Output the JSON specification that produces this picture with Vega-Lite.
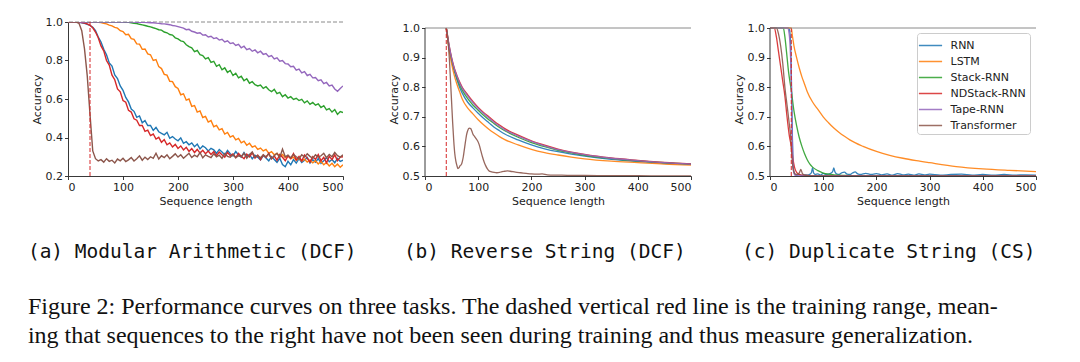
{
  "$schema": "https://vega.github.io/schema/vega-lite/v6.json",
  "background": "white",
  "padding": {"left": 27, "top": 16, "right": 0, "bottom": 0},
  "config": {
    "view": {"stroke": null},
    "axis": {"labelFont": "DejaVu Sans", "labelFontSize": 11, "labelColor": "#222", "titleFont": "DejaVu Sans", "titleFontSize": 11, "titleFontWeight": "normal", "titleColor": "#222", "domainColor": "#222", "domainWidth": 0.9, "tickColor": "#222", "tickWidth": 0.9, "tickSize": 3.5, "labelPadding": 2, "titlePadding": 3, "grid": false}
  },
  "datasets": {
    "a": [
      {"m": "RNN", "x": [0,5,10,15,20,25,30,35,40,45,50,55,60,65,70,75,80,85,90,95,100,105,110,115,120,125,130,135,140,145,150,155,160,165,170,175,180,185,190,195,200,205,210,215,220,225,230,235,240,245,250,255,260,265,270,275,280,285,290,295,300,305,310,315,320,325,330,335,340,345,350,355,360,365,370,375,380,385,390,395,400,405,410,415,420,425,430,435,440,445,450,455,460,465,470,475,480,485,490,495,500],
       "y": [1,1,1,1,0.999,0.996,0.993,0.988,0.982,0.972,0.955,0.922,0.896,0.858,0.83,0.787,0.771,0.725,0.706,0.668,0.645,0.608,0.585,0.548,0.536,0.505,0.512,0.476,0.488,0.462,0.463,0.437,0.452,0.43,0.421,0.414,0.427,0.396,0.405,0.392,0.383,0.398,0.37,0.378,0.362,0.372,0.352,0.366,0.341,0.356,0.347,0.33,0.344,0.336,0.318,0.338,0.325,0.31,0.333,0.316,0.304,0.327,0.309,0.298,0.322,0.301,0.312,0.289,0.308,0.297,0.284,0.306,0.293,0.279,0.301,0.286,0.271,0.292,0.26,0.248,0.276,0.258,0.285,0.267,0.29,0.27,0.282,0.296,0.268,0.284,0.272,0.291,0.266,0.279,0.295,0.274,0.286,0.269,0.291,0.276,0.282]},
      {"m": "LSTM", "x": [0,5,10,15,20,25,30,35,40,45,50,55,60,65,70,75,80,85,90,95,100,105,110,115,120,125,130,135,140,145,150,155,160,165,170,175,180,185,190,195,200,205,210,215,220,225,230,235,240,245,250,255,260,265,270,275,280,285,290,295,300,305,310,315,320,325,330,335,340,345,350,355,360,365,370,375,380,385,390,395,400,405,410,415,420,425,430,435,440,445,450,455,460,465,470,475,480,485,490,495,500],
       "y": [1,1,1,1,1,1,1,1,1,1,1,0.999,0.997,0.993,0.99,0.984,0.98,0.972,0.968,0.955,0.95,0.934,0.936,0.914,0.91,0.886,0.885,0.858,0.86,0.834,0.83,0.8,0.805,0.768,0.758,0.728,0.724,0.692,0.69,0.664,0.655,0.622,0.627,0.594,0.6,0.562,0.566,0.532,0.538,0.504,0.51,0.48,0.488,0.456,0.463,0.44,0.446,0.418,0.426,0.402,0.41,0.388,0.395,0.372,0.381,0.36,0.37,0.35,0.357,0.338,0.345,0.33,0.338,0.318,0.327,0.31,0.318,0.302,0.312,0.296,0.304,0.29,0.298,0.282,0.293,0.278,0.287,0.272,0.283,0.268,0.279,0.262,0.276,0.258,0.27,0.252,0.266,0.248,0.262,0.245,0.258]},
      {"m": "Stack-RNN", "x": [0,5,10,15,20,25,30,35,40,45,50,55,60,65,70,75,80,85,90,95,100,105,110,115,120,125,130,135,140,145,150,155,160,165,170,175,180,185,190,195,200,205,210,215,220,225,230,235,240,245,250,255,260,265,270,275,280,285,290,295,300,305,310,315,320,325,330,335,340,345,350,355,360,365,370,375,380,385,390,395,400,405,410,415,420,425,430,435,440,445,450,455,460,465,470,475,480,485,490,495,500],
       "y": [1,1,1,1,1,1,1,1,1,1,1,1,1,1,1,1,1,1,1,1,1,0.999,0.998,0.996,0.993,0.992,0.988,0.985,0.982,0.978,0.975,0.97,0.966,0.96,0.958,0.948,0.944,0.935,0.932,0.918,0.912,0.902,0.898,0.882,0.872,0.866,0.846,0.852,0.83,0.826,0.808,0.815,0.79,0.796,0.77,0.778,0.752,0.762,0.738,0.748,0.722,0.734,0.71,0.718,0.695,0.705,0.682,0.69,0.674,0.668,0.672,0.655,0.664,0.648,0.638,0.65,0.628,0.634,0.612,0.622,0.605,0.612,0.598,0.604,0.592,0.598,0.58,0.59,0.572,0.582,0.568,0.575,0.556,0.565,0.543,0.55,0.532,0.545,0.52,0.535,0.53]},
      {"m": "NDStack-RNN", "x": [0,5,10,15,20,25,30,35,40,45,50,55,60,65,70,75,80,85,90,95,100,105,110,115,120,125,130,135,140,145,150,155,160,165,170,175,180,185,190,195,200,205,210,215,220,225,230,235,240,245,250,255,260,265,270,275,280,285,290,295,300,305,310,315,320,325,330,335,340,345,350,355,360,365,370,375,380,385,390,395,400,405,410,415,420,425,430,435,440,445,450,455,460,465,470,475,480,485,490,495,500],
       "y": [1,1,1,1,1,0.997,0.994,0.99,0.983,0.97,0.948,0.918,0.876,0.85,0.8,0.776,0.724,0.7,0.652,0.637,0.592,0.583,0.541,0.532,0.497,0.49,0.462,0.463,0.432,0.438,0.41,0.418,0.392,0.401,0.375,0.389,0.362,0.372,0.351,0.364,0.343,0.356,0.335,0.349,0.328,0.342,0.322,0.338,0.319,0.334,0.316,0.33,0.312,0.327,0.305,0.324,0.31,0.298,0.322,0.306,0.315,0.296,0.318,0.302,0.29,0.314,0.299,0.32,0.293,0.308,0.285,0.31,0.296,0.318,0.289,0.304,0.282,0.312,0.297,0.279,0.305,0.29,0.316,0.284,0.301,0.278,0.309,0.293,0.272,0.3,0.286,0.311,0.279,0.297,0.268,0.302,0.285,0.31,0.28,0.298,0.3]},
      {"m": "Tape-RNN", "x": [0,5,10,15,20,25,30,35,40,45,50,55,60,65,70,75,80,85,90,95,100,105,110,115,120,125,130,135,140,145,150,155,160,165,170,175,180,185,190,195,200,205,210,215,220,225,230,235,240,245,250,255,260,265,270,275,280,285,290,295,300,305,310,315,320,325,330,335,340,345,350,355,360,365,370,375,380,385,390,395,400,405,410,415,420,425,430,435,440,445,450,455,460,465,470,475,480,485,490,495,500],
       "y": [1,1,1,1,1,1,1,1,1,1,1,1,1,1,1,1,1,1,1,1,1,1,1,1,1,0.999,0.999,0.998,0.998,0.997,0.996,0.996,0.994,0.993,0.991,0.99,0.988,0.986,0.982,0.98,0.976,0.972,0.968,0.96,0.962,0.952,0.948,0.942,0.944,0.932,0.934,0.922,0.926,0.914,0.918,0.906,0.91,0.896,0.902,0.888,0.892,0.878,0.884,0.866,0.874,0.856,0.862,0.848,0.855,0.84,0.848,0.832,0.836,0.82,0.826,0.808,0.814,0.796,0.8,0.784,0.782,0.768,0.77,0.75,0.755,0.736,0.742,0.722,0.728,0.71,0.712,0.695,0.7,0.68,0.686,0.668,0.672,0.652,0.64,0.655,0.668]},
      {"m": "Transformer", "x": [0,5,10,15,20,25,30,35,40,45,50,55,60,65,70,75,80,85,90,95,100,105,110,115,120,125,130,135,140,145,150,155,160,165,170,175,180,185,190,195,200,205,210,215,220,225,230,235,240,245,250,255,260,265,270,275,280,285,290,295,300,305,310,315,320,325,330,335,340,345,350,355,360,365,370,375,380,385,390,395,400,405,410,415,420,425,430,435,440,445,450,455,460,465,470,475,480,485,490,495,500],
       "y": [1,1,1,1,0.993,0.955,0.86,0.72,0.52,0.33,0.29,0.278,0.285,0.272,0.29,0.276,0.282,0.268,0.288,0.279,0.292,0.275,0.284,0.296,0.278,0.29,0.305,0.282,0.298,0.286,0.3,0.292,0.318,0.288,0.305,0.296,0.31,0.29,0.302,0.315,0.298,0.31,0.292,0.305,0.318,0.296,0.308,0.3,0.322,0.295,0.31,0.302,0.295,0.315,0.3,0.308,0.292,0.316,0.302,0.298,0.312,0.295,0.305,0.3,0.318,0.292,0.31,0.325,0.298,0.306,0.295,0.31,0.3,0.315,0.29,0.305,0.318,0.296,0.34,0.3,0.308,0.295,0.312,0.3,0.29,0.31,0.298,0.315,0.302,0.292,0.31,0.298,0.305,0.318,0.295,0.312,0.3,0.322,0.306,0.298,0.31]}
    ],
    "b": [
      {"m": "RNN", "x": [40,45,50,55,60,65,70,80,90,100,110,120,130,140,150,175,200,225,250,275,300,350,400,450,500],
       "y": [1,0.935,0.89,0.855,0.825,0.8,0.78,0.75,0.73,0.712,0.695,0.68,0.665,0.653,0.642,0.622,0.605,0.592,0.582,0.574,0.567,0.556,0.549,0.543,0.539]},
      {"m": "LSTM", "x": [40,45,50,55,60,65,70,80,90,100,110,120,130,140,150,175,200,225,250,275,300,350,400,450,500],
       "y": [1,0.93,0.88,0.84,0.81,0.785,0.76,0.73,0.71,0.69,0.673,0.658,0.645,0.633,0.623,0.605,0.59,0.579,0.571,0.564,0.558,0.55,0.545,0.54,0.537]},
      {"m": "Stack-RNN", "x": [40,45,50,55,60,65,70,80,90,100,110,120,130,140,150,175,200,225,250,275,300,350,400,450,500],
       "y": [1,0.94,0.895,0.86,0.832,0.808,0.79,0.762,0.74,0.722,0.705,0.69,0.677,0.664,0.653,0.631,0.613,0.599,0.587,0.578,0.57,0.559,0.551,0.545,0.54]},
      {"m": "NDStack-RNN", "x": [40,45,50,55,60,65,70,80,90,100,110,120,130,140,150,175,200,225,250,275,300,350,400,450,500],
       "y": [1,0.945,0.9,0.865,0.84,0.818,0.8,0.775,0.752,0.732,0.715,0.7,0.685,0.672,0.66,0.638,0.619,0.604,0.591,0.581,0.573,0.561,0.553,0.546,0.541]},
      {"m": "Tape-RNN", "x": [40,45,50,55,60,65,70,80,90,100,110,120,130,140,150,175,200,225,250,275,300,350,400,450,500],
       "y": [1,0.944,0.898,0.863,0.837,0.815,0.797,0.771,0.748,0.728,0.711,0.696,0.681,0.668,0.656,0.635,0.617,0.602,0.589,0.58,0.572,0.56,0.552,0.545,0.54]},
      {"m": "Transformer", "x": [40,42,44,46,48,50,52,54,56,58,60,62,64,66,68,70,72,74,76,78,80,83,86,88,90,93,96,99,102,105,108,111,114,117,120,125,130,135,140,145,150,155,160,170,180,190,200,210,220,230,250,275,300,350,400,450,500],
       "y": [1,0.98,0.94,0.89,0.82,0.75,0.68,0.62,0.575,0.55,0.535,0.525,0.528,0.535,0.538,0.548,0.565,0.59,0.615,0.638,0.652,0.662,0.66,0.652,0.642,0.634,0.626,0.618,0.605,0.585,0.565,0.548,0.535,0.525,0.518,0.514,0.512,0.511,0.512,0.515,0.516,0.517,0.516,0.513,0.511,0.509,0.507,0.506,0.507,0.504,0.503,0.502,0.502,0.501,0.501,0.5,0.5]}
    ],
    "c": [
      {"m": "RNN", "x": [0,35,37,39,40,41,42,43,44,46,50,55,60,65,70,75,78,80,82,85,90,95,100,105,110,115,118,120,122,125,130,135,140,145,150,155,160,165,170,180,190,200,210,220,230,240,250,260,270,280,290,300,320,340,360,380,400,420,440,460,480,500],
       "y": [1,1,0.99,0.94,0.85,0.75,0.64,0.56,0.525,0.508,0.503,0.505,0.502,0.504,0.503,0.506,0.512,0.528,0.51,0.505,0.507,0.503,0.509,0.505,0.506,0.51,0.516,0.527,0.514,0.507,0.505,0.511,0.513,0.506,0.505,0.51,0.514,0.507,0.505,0.509,0.505,0.508,0.504,0.507,0.503,0.508,0.504,0.506,0.503,0.507,0.504,0.506,0.503,0.505,0.506,0.503,0.505,0.503,0.505,0.503,0.504,0.503]},
      {"m": "LSTM", "x": [0,40,42,45,50,55,60,65,70,80,90,100,110,120,130,140,150,175,200,225,250,275,300,350,400,450,500],
       "y": [1,1,0.975,0.94,0.9,0.865,0.835,0.81,0.785,0.75,0.725,0.7,0.68,0.662,0.647,0.634,0.622,0.6,0.583,0.57,0.56,0.552,0.545,0.532,0.524,0.519,0.515]},
      {"m": "Stack-RNN", "x": [0,25,28,31,35,40,45,50,55,60,65,70,75,80,90,100,110,120,140,160,200,300,400,500],
       "y": [1,1,0.97,0.92,0.85,0.79,0.72,0.67,0.63,0.6,0.575,0.555,0.54,0.53,0.518,0.51,0.506,0.504,0.502,0.501,0.5,0.5,0.5,0.5]},
      {"m": "NDStack-RNN", "x": [0,8,12,16,20,24,28,32,36,40,43,46,50,55,60,70,80,100,200,300,400,500],
       "y": [1,1,0.97,0.92,0.87,0.82,0.77,0.7,0.64,0.6,0.56,0.53,0.512,0.505,0.503,0.502,0.5,0.5,0.5,0.5,0.5,0.5]},
      {"m": "Tape-RNN", "x": [0,33,36,38,40,41,42,43,44,46,50,100,200,300,400,500],
       "y": [1,1,0.98,0.93,0.82,0.72,0.62,0.55,0.52,0.505,0.5,0.5,0.5,0.5,0.5,0.5]},
      {"m": "Transformer", "x": [0,12,16,20,24,28,32,36,39,41,43,46,50,55,58,61,65,70,80,100,200,300,400,500],
       "y": [1,1,0.98,0.94,0.88,0.8,0.74,0.68,0.63,0.57,0.53,0.51,0.505,0.51,0.522,0.508,0.503,0.502,0.5,0.5,0.5,0.5,0.5,0.5]}
    ]
  },
  "title": {
    "text": ["Figure 2: Performance curves on three tasks. The dashed vertical red line is the training range, mean-", "ing that sequences to the right have not been seen during training and thus measure generalization."],
    "orient": "bottom", "anchor": "start", "font": "Liberation Serif", "fontSize": 24, "fontWeight": "normal", "color": "#111", "offset": 34, "lineHeight": 29
  },
  "spacing": 31,
  "resolve": {"scale": {"x": "independent", "y": "independent", "color": "independent"}, "legend": {"color": "independent"}},
  "hconcat": [
    {
      "width": 275, "height": 154,
      "title": {"text": "(a) Modular Arithmetic (DCF)", "orient": "bottom", "anchor": "middle", "frame": "bounds", "dx": 5, "font": "DejaVu Sans Mono", "fontSize": 19.5, "fontWeight": "normal", "color": "#111", "offset": 36},
      "layer": [
        {"data": {"values": [{}]}, "mark": {"type": "rule", "color": "#8a8a8a", "strokeDash": [4, 2], "strokeWidth": 1},
         "encoding": {"y": {"datum": 1, "axis": {"values": [0.2, 0.4, 0.6, 0.8, 1], "format": ".1f", "title": "Accuracy"}}}},
        {"data": {"name": "a"}, "transform": [{"flatten": ["x", "y"]}],
         "mark": {"type": "line", "strokeWidth": 1.4, "clip": true},
         "encoding": {
           "x": {"field": "x", "type": "quantitative", "scale": {"domain": [0, 500], "nice": false}, "axis": {"orient": "bottom", "values": [0, 100, 200, 300, 400, 500], "title": "Sequence length"}},
           "y": {"field": "y", "type": "quantitative", "scale": {"domain": [0.2, 1], "nice": false, "zero": false}, "axis": {"values": [0.2, 0.4, 0.6, 0.8, 1], "format": ".1f", "title": "Accuracy"}},
           "color": {"field": "m", "type": "nominal", "scale": {"domain": ["RNN", "LSTM", "Stack-RNN", "NDStack-RNN", "Tape-RNN", "Transformer"], "range": ["#1f77b4", "#ff7f0e", "#2ca02c", "#d62728", "#9467bd", "#8c564b"]}, "legend": null}
         }},
        {"data": {"values": [{}]}, "mark": {"type": "rule", "color": "#d62728", "strokeDash": [4, 2], "strokeWidth": 1},
         "encoding": {
           "x": {"datum": 40, "axis": {"orient": "bottom", "values": [0, 100, 200, 300, 400, 500], "title": "Sequence length"}},
           "y": {"datum": 0.2, "axis": {"values": [0.2, 0.4, 0.6, 0.8, 1], "format": ".1f", "title": "Accuracy"}},
           "y2": {"datum": 1}}}
      ]
    },
    {
      "spacing": 41,
      "resolve": {"scale": {"x": "independent", "y": "independent", "color": "independent"}, "legend": {"color": "independent"}},
      "hconcat": [
        {
          "width": 266, "height": 154,
          "title": {"text": "(b) Reverse String (DCF)", "orient": "bottom", "anchor": "middle", "frame": "bounds", "dx": 5, "font": "DejaVu Sans Mono", "fontSize": 19.5, "fontWeight": "normal", "color": "#111", "offset": 36},
          "layer": [
            {"data": {"name": "b"}, "transform": [{"flatten": ["x", "y"]}],
             "mark": {"type": "line", "strokeWidth": 1.3, "interpolate": "monotone", "clip": true, "opacity": 0.9},
             "encoding": {
               "x": {"field": "x", "type": "quantitative", "scale": {"domain": [0, 500], "nice": false}, "axis": {"orient": "bottom", "values": [0, 100, 200, 300, 400, 500], "title": "Sequence length"}},
               "y": {"field": "y", "type": "quantitative", "scale": {"domain": [0.5, 1.0203], "nice": false, "zero": false}, "axis": {"values": [0.5, 0.6, 0.7, 0.8, 0.9, 1], "format": ".1f", "title": "Accuracy", "domain": false}},
               "color": {"field": "m", "type": "nominal", "scale": {"domain": ["RNN", "LSTM", "Stack-RNN", "NDStack-RNN", "Tape-RNN", "Transformer"], "range": ["#1f77b4", "#ff7f0e", "#2ca02c", "#d62728", "#9467bd", "#8c564b"]}, "legend": null}
             }},
            {"data": {"values": [{}]}, "mark": {"type": "rule", "color": "#d62728", "strokeDash": [4, 2], "strokeWidth": 1},
             "encoding": {
               "x": {"datum": 40, "axis": {"orient": "bottom", "values": [0, 100, 200, 300, 400, 500], "title": "Sequence length"}},
               "y": {"datum": 0.5, "axis": {"values": [0.5, 0.6, 0.7, 0.8, 0.9, 1], "format": ".1f", "title": "Accuracy", "domain": false}},
               "y2": {"datum": 1}}},
            {"data": {"values": [{}]}, "mark": {"type": "rule", "color": "#222", "strokeWidth": 0.9},
             "encoding": {
               "x": {"datum": 0, "axis": {"orient": "bottom", "values": [0, 100, 200, 300, 400, 500], "title": "Sequence length"}},
               "y": {"datum": 0.5, "axis": {"values": [0.5, 0.6, 0.7, 0.8, 0.9, 1], "format": ".1f", "title": "Accuracy", "domain": false}},
               "y2": {"datum": 1}}},
            {"data": {"values": [{}]}, "mark": {"type": "rule", "color": "#8a8a8a", "strokeWidth": 1},
             "encoding": {"y": {"datum": 1, "axis": {"values": [0.5, 0.6, 0.7, 0.8, 0.9, 1], "format": ".1f", "title": "Accuracy", "domain": false}}}}
          ]
        },
        {
          "width": 266, "height": 154,
          "title": {"text": "(c) Duplicate String (CS)", "orient": "bottom", "anchor": "middle", "frame": "bounds", "dx": 4, "font": "DejaVu Sans Mono", "fontSize": 19.5, "fontWeight": "normal", "color": "#111", "offset": 36},
          "layer": [
            {"data": {"name": "c"}, "transform": [{"flatten": ["x", "y"]}],
             "mark": {"type": "line", "strokeWidth": 1.3, "interpolate": "monotone", "clip": true, "opacity": 0.9},
             "encoding": {
               "x": {"field": "x", "type": "quantitative", "scale": {"domain": [0, 500], "nice": false}, "axis": {"orient": "bottom", "values": [0, 100, 200, 300, 400, 500], "title": "Sequence length"}},
               "y": {"field": "y", "type": "quantitative", "scale": {"domain": [0.5, 1.0203], "nice": false, "zero": false}, "axis": {"values": [0.5, 0.6, 0.7, 0.8, 0.9, 1], "format": ".1f", "title": "Accuracy", "domain": false}},
               "color": {"field": "m", "type": "nominal", "scale": {"domain": ["RNN", "LSTM", "Stack-RNN", "NDStack-RNN", "Tape-RNN", "Transformer"], "range": ["#1f77b4", "#ff7f0e", "#2ca02c", "#d62728", "#9467bd", "#8c564b"]},
                 "legend": {"orient": "none", "legendX": 147, "legendY": 11, "title": null, "symbolType": "M-1.45,0L1.45,0", "symbolSize": 256, "symbolOffset": 1, "symbolStrokeWidth": 1.5, "symbolOpacity": 0.85, "labelFont": "DejaVu Sans", "labelFontSize": 11, "labelColor": "#222", "labelOffset": 11, "padding": 3.5, "rowPadding": 2, "strokeColor": "#cccccc", "fillColor": "#ffffff", "cornerRadius": 3}}
             }},
            {"data": {"values": [{}]}, "mark": {"type": "rule", "color": "#d62728", "strokeDash": [4, 2], "strokeWidth": 1},
             "encoding": {
               "x": {"datum": 40, "axis": {"orient": "bottom", "values": [0, 100, 200, 300, 400, 500], "title": "Sequence length"}},
               "y": {"datum": 0.5, "axis": {"values": [0.5, 0.6, 0.7, 0.8, 0.9, 1], "format": ".1f", "title": "Accuracy", "domain": false}},
               "y2": {"datum": 1}}},
            {"data": {"values": [{}]}, "mark": {"type": "rule", "color": "#222", "strokeWidth": 0.9},
             "encoding": {
               "x": {"datum": 0, "axis": {"orient": "bottom", "values": [0, 100, 200, 300, 400, 500], "title": "Sequence length"}},
               "y": {"datum": 0.5, "axis": {"values": [0.5, 0.6, 0.7, 0.8, 0.9, 1], "format": ".1f", "title": "Accuracy", "domain": false}},
               "y2": {"datum": 1}}},
            {"data": {"values": [{}]}, "mark": {"type": "rule", "color": "#8a8a8a", "strokeWidth": 1},
             "encoding": {"y": {"datum": 1, "axis": {"values": [0.5, 0.6, 0.7, 0.8, 0.9, 1], "format": ".1f", "title": "Accuracy", "domain": false}}}}
          ]
        }
      ]
    }
  ]
}
